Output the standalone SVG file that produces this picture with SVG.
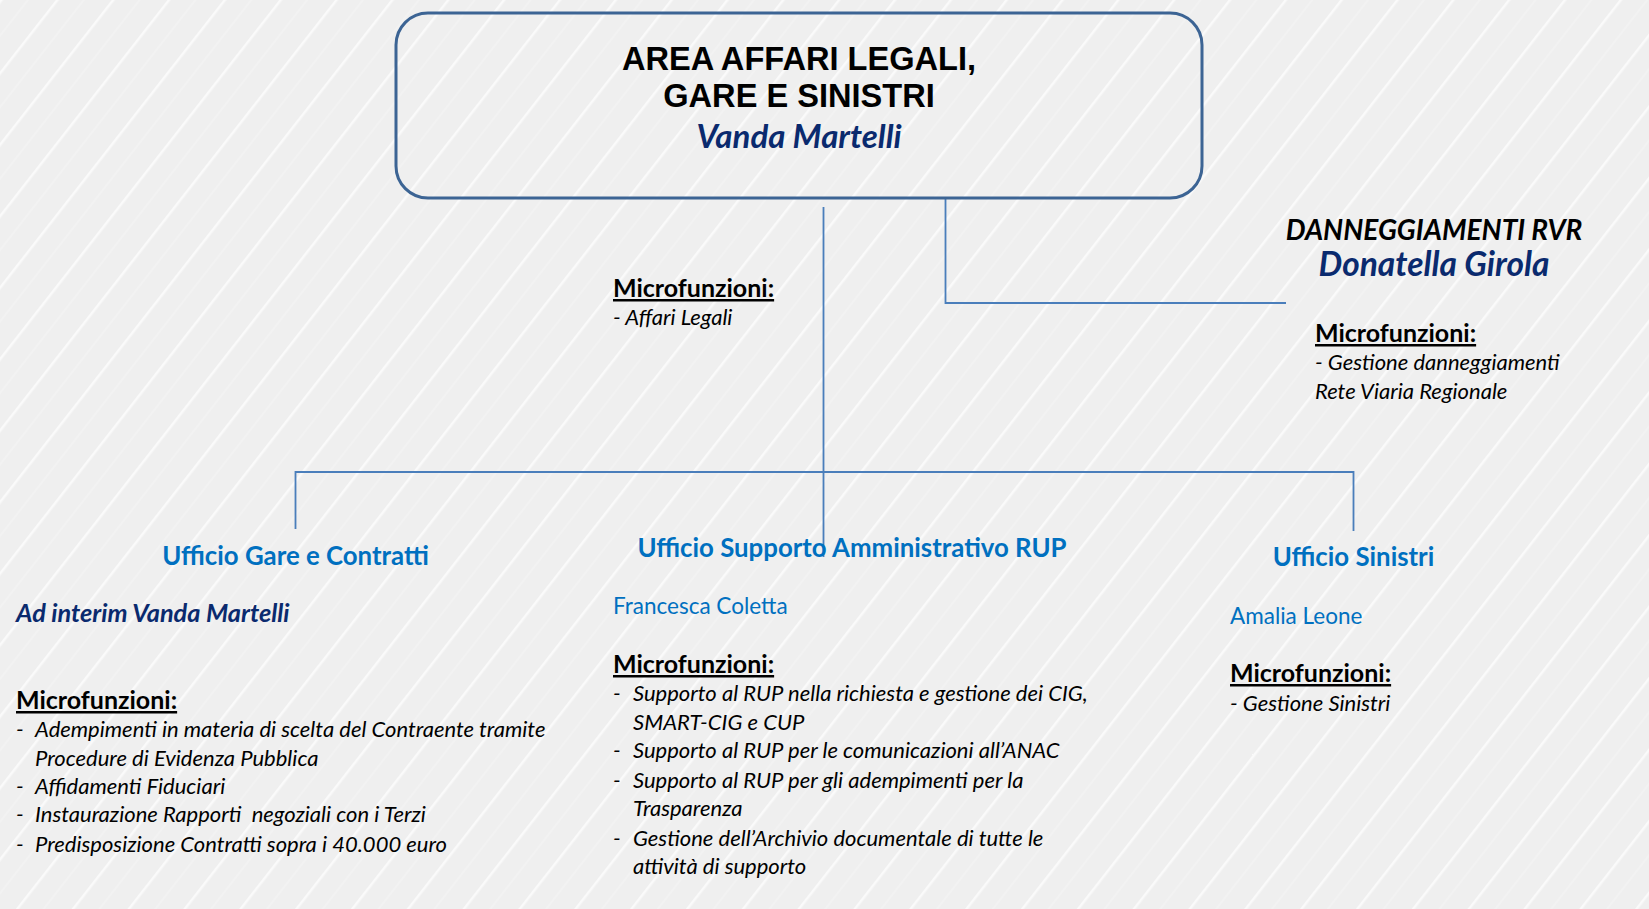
<svg xmlns="http://www.w3.org/2000/svg" width="1649" height="909" viewBox="0 0 1649 909">
<style>
text{font-family:Lato,"Liberation Sans",sans-serif;}
.t{font-family:"Liberation Sans",Arial,sans-serif;font-size:32.6px;font-weight:bold;fill:#000;text-anchor:middle}
.nm{font-weight:bold;font-style:italic;fill:#0a2a6e}
.hd{font-weight:bold;fill:#0070c0;font-size:25.8px;text-anchor:middle}
.bl{fill:#0070c0;font-size:22.5px}
.mf{font-weight:bold;font-size:25px;fill:#000;text-decoration:underline}
.it{font-style:italic;font-size:22px;fill:#000}
.ln{stroke:#4a7ebb;stroke-width:1.8;fill:none}
</style>
<defs>
<pattern id="bgp" width="44" height="44" patternUnits="userSpaceOnUse" patternTransform="rotate(-52)">
<rect width="44" height="44" fill="#efefef"/>
<line x1="0" y1="1" x2="44" y2="1" stroke="#fafafa" stroke-width="3"/>
<line x1="0" y1="22" x2="44" y2="22" stroke="#f6f6f6" stroke-width="1"/>
</pattern>
</defs>
<rect width="1649" height="909" fill="url(#bgp)"/>
<g id="connectors">
<path class="ln" d="M823.5 207 V557"/>
<path class="ln" d="M945.5 198 V303 H1286"/>
<path class="ln" d="M295.5 529 V472 H1353.5 V531"/>
</g>
<g id="area">
<rect x="396" y="13" width="806" height="185" rx="32" fill="none" stroke="#3c6494" stroke-width="3"/>
<text class="t" x="799" y="70">AREA AFFARI LEGALI,</text>
<text class="t" x="799" y="107">GARE E SINISTRI</text>
<text class="nm" x="799" y="148" font-size="33" text-anchor="middle">Vanda Martelli</text>
<text class="mf" x="613" y="297">Microfunzioni:</text>
<text class="it" x="613" y="325">- Affari Legali</text>
</g>
<g id="danneggiamenti">
<text x="1434" y="240" font-size="28" font-weight="bold" font-style="italic" fill="#000" text-anchor="middle">DANNEGGIAMENTI RVR</text>
<text class="nm" x="1434" y="276" font-size="33.5" text-anchor="middle">Donatella Girola</text>
<text class="mf" x="1315" y="342">Microfunzioni:</text>
<text class="it" x="1315" y="370">- Gestione danneggiamenti</text>
<text class="it" x="1315" y="399">Rete Viaria Regionale</text>
</g>
<g id="gare">
<text class="hd" x="295.5" y="565">Ufficio Gare e Contratti</text>
<text class="nm" x="16" y="622" font-size="25.3">Ad interim Vanda Martelli</text>
<text class="mf" x="16" y="709">Microfunzioni:</text>
<g class="it">
<text x="16" y="737">-</text><text x="35" y="737">Adempimenti in materia di scelta del Contraente tramite</text>
<text x="35" y="766">Procedure di Evidenza Pubblica</text>
<text x="16" y="794">-</text><text x="35" y="794">Affidamenti Fiduciari</text>
<text x="16" y="822">-</text><text x="35" y="822" xml:space="preserve">Instaurazione Rapporti  negoziali con i Terzi</text>
<text x="16" y="852">-</text><text x="35" y="852">Predisposizione Contratti sopra i 40.000 euro</text>
</g>
</g>
<g id="supporto">
<text class="hd" x="852" y="557">Ufficio Supporto Amministrativo RUP</text>
<text class="bl" x="613" y="614">Francesca Coletta</text>
<text class="mf" x="613" y="673">Microfunzioni:</text>
<g class="it">
<text x="613" y="701">-</text><text x="633" y="701">Supporto al RUP nella richiesta e gestione dei CIG,</text>
<text x="633" y="730">SMART-CIG e CUP</text>
<text x="613" y="758">-</text><text x="633" y="758">Supporto al RUP per le comunicazioni all’ANAC</text>
<text x="613" y="788">-</text><text x="633" y="788">Supporto al RUP per gli adempimenti per la</text>
<text x="633" y="816">Trasparenza</text>
<text x="613" y="846">-</text><text x="633" y="846">Gestione dell’Archivio documentale di tutte le</text>
<text x="633" y="874">attività di supporto</text>
</g>
</g>
<g id="sinistri">
<text class="hd" x="1353.5" y="566">Ufficio Sinistri</text>
<text class="bl" x="1230" y="624">Amalia Leone</text>
<text class="mf" x="1230" y="682">Microfunzioni:</text>
<text class="it" x="1230" y="711">- Gestione Sinistri</text>
</g>
</svg>
